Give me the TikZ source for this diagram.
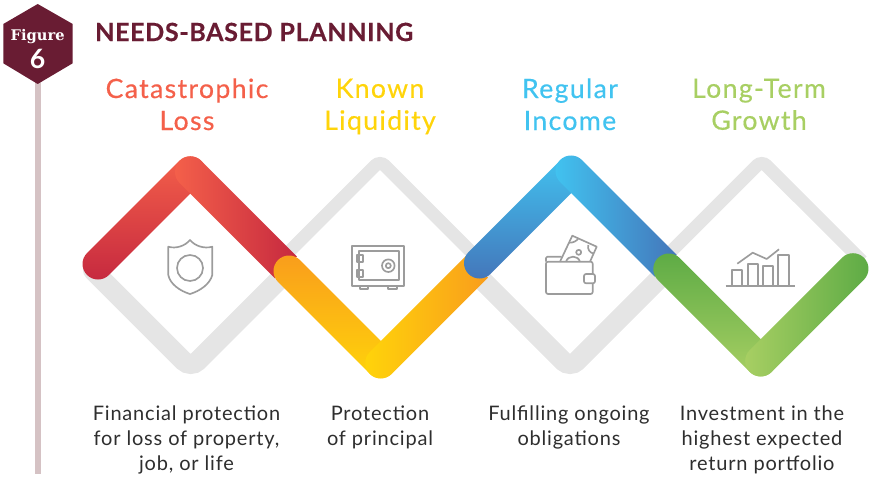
\documentclass[tikz,border=0pt]{standalone}
\usepackage{fontspec}
\setmainfont{Lato}
\newfontfamily\slabfont{DejaVu Serif}
\usetikzlibrary{shapes,arrows.meta}

\definecolor{wine}{HTML}{691C33}
\definecolor{pole}{HTML}{D5C2C4}
\definecolor{track}{HTML}{E5E5E5}
\definecolor{icon}{HTML}{9C9C9C}
\definecolor{body}{HTML}{2E2E2E}
\definecolor{catcolor}{HTML}{F4604A}
\definecolor{catdark}{HTML}{C6293F}
\definecolor{liqcolor}{HTML}{FFD40A}
\definecolor{liqdark}{HTML}{F99D1C}
\definecolor{inccolor}{HTML}{41C3F0}
\definecolor{incdark}{HTML}{4476BA}
\definecolor{grocolor}{HTML}{A8CF63}
\definecolor{grodark}{HTML}{5DAB45}

\newcommand{\roundarm}[4]{\path[#1,shift={#2},rotate=#3] (0,-15.5) arc[start angle=-90,end angle=-270,radius=15.5] -- (#4,15.5) arc[start angle=90,end angle=-90,radius=15.5] -- cycle;}
\newcommand{\buttarm}[4]{\path[#1,shift={#2},rotate=#3] (0,-15.5) arc[start angle=-90,end angle=-270,radius=15.5] -- (#4,15.5) -- (#4,-15.5) -- cycle;}

\begin{document}
\begin{tikzpicture}[x=0.75pt,y=-0.75pt]
	\useasboundingbox (0,0) rectangle (872,478);
	\tikzset{
		heading/.style = {font=\bfseries\fontsize{18.8}{24}\selectfont\addfontfeatures{LetterSpace=2.5,FakeBold=0.4},text=wine,anchor=west},
		title/.style = {font=\fontsize{20}{24}\selectfont\addfontfeatures{LetterSpace=5,FakeBold=0.4},align=center,execute at begin node=\strut,execute at end node=\strut},
		caption/.style = {font=\fontsize{15}{18.75}\selectfont\addfontfeatures{LetterSpace=4},align=center,text=body,execute at begin node=\strut,execute at end node=\strut},
		bottomtrack/.style = {draw=track,line width=15pt,rounded corners=7.5pt},
		toptrack/.style = {draw=track,line width=9.75pt,rounded corners=4.9pt},
		iconline/.style = {draw=icon,line width=1.25pt,line join=round}
	}

	\fill[pole] (35,80) rectangle (40.7,473.5);
	\fill[wine] (37.7,4) -- (72.7,24) -- (72.7,63.3) -- (37.7,84) -- (3.3,63.3) -- (3.3,24) -- cycle;
	\node(figlabel)[text=white,font=\slabfont\bfseries\fontsize{11}{13}\selectfont] at (37.7,37) {Figure};
	\node(fignum)[text=white,font=\bfseries\fontsize{20}{22}\selectfont] at (37.7,59) {6};
	\node(head)[heading] at (90.5,32) {NEEDS-BASED PLANNING};

	\node(cattitle)[title,text=catcolor] at (187,109) {Catastrophic\\Loss};
	\node(liqtitle)[title,text=liqcolor] at (380,109) {Known\\Liquidity};
	\node(inctitle)[title,text=inccolor] at (570,109) {Regular\\Income};
	\node(grotitle)[title,text=grocolor] at (759,109) {Long-Term\\Growth};

	\draw[bottomtrack,line cap=round] (93,270.4) -- (190.7,368.1) -- (285,273.8);
	\draw[bottomtrack,line cap=round] (475,273) -- (570,368.1) -- (666,272.1);
	\draw[toptrack] (290,250.8) -- (380,160.8) -- (480,260.8);
	\draw[toptrack] (671,251.5) -- (761.7,160.8) -- (862,261);

	\roundarm{top color=catcolor,bottom color=catdark}{(98,264)}{45}{130.5}
	\buttarm{left color=catcolor,right color=catdark}{(190.5,172)}{-45}{135}
	\roundarm{top color=liqdark,bottom color=liqcolor}{(289,271)}{-45}{129.7}
	\buttarm{left color=liqcolor,right color=liqdark}{(380.7,363)}{45}{136.2}
	\roundarm{top color=inccolor,bottom color=incdark}{(479.5,263)}{45}{129.4}
	\buttarm{left color=inccolor,right color=incdark}{(571,171)}{-45}{134}
	\roundarm{top color=grodark,bottom color=grocolor}{(668.8,269)}{-45}{130}
	\roundarm{left color=grocolor,right color=grodark}{(760.7,361)}{45}{130.5}

	\begin{scope}[iconline]
		\draw (190,240) .. controls (185,246) and (176,249) .. (168.3,246.7) -- (168.3,275) .. controls (170,284) and (180,291) .. (190,294) .. controls (200,291) and (210,284) .. (212.3,275) -- (212.3,246.7) .. controls (204,249) and (195,246) .. (190,240) -- cycle;
		\draw (190,268) circle (13);

		\draw (352.3,245.7) rectangle (404.3,285.7);
		\draw (359.3,250.7) rectangle (399.3,280);
		\draw (357.3,255) rectangle (362.7,261.7);
		\draw (357.3,270) rectangle (362.7,276.7);
		\draw (388.3,265.7) circle (6.3);
		\draw (388.3,265.7) circle (2.5);
		\draw (360,285.7) rectangle (368.3,289);
		\draw (388.3,285.7) rectangle (396.7,289);

		\draw[rounded corners=1.5pt] (546,261.7) rectangle (592.7,294);
		\draw[rounded corners=1pt] (546,261.7) -- (546,256.7) -- (561.7,256.7);
		\draw[fill=white,rounded corners=1.5pt] (584,274) rectangle (595,283.3);
		\draw (560,261.7) -- (572.3,235.7) -- (596.7,246.7) -- (590,261.7);
		\draw (578.7,252.3) circle (2.5);
		\draw (566,261.7) .. controls (568,255) and (578,255) .. (580,261.7);
		\draw (569,242.7) .. controls (573,243) and (577,241) .. (578.3,238.3);
		\draw (588.3,245) .. controls (587,249) and (590,253) .. (593.5,253.5);

		\draw (725.7,286.3) -- (795,286.3);
		\draw (732.3,286.3) -- (732.3,270) -- (742.3,270) -- (742.3,286.3);
		\draw (747.7,286.3) -- (747.7,264) -- (757.7,264) -- (757.7,286.3);
		\draw (763,286.3) -- (763,265.7) -- (773,265.7) -- (773,286.3);
		\draw (778.3,286.3) -- (778.3,255) -- (788.7,255) -- (788.7,286.3);
		\draw (737.3,263.7) -- (752.7,252.7) -- (766.7,259) -- (779,249.3);
	\end{scope}

	\node(catcap)[caption] at (186.5,441.7) {Financial protection\\for loss of property,\\job, or life};
	\node(liqcap)[caption] at (380,429.8) {Protection\\of principal};
	\node(inccap)[caption] at (569,429) {Fulfilling ongoing\\obligations};
	\node(grocap)[caption] at (762,442) {Investment in the\\highest expected\\return portfolio};
\end{tikzpicture}
\end{document}
